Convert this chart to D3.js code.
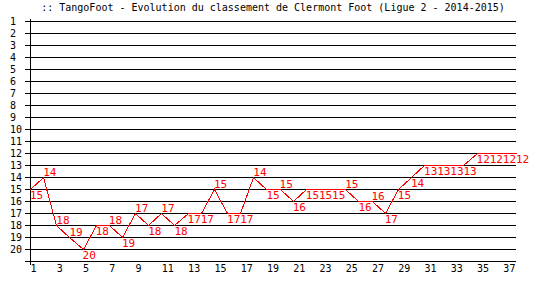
<!DOCTYPE html>
<html>
<head>
<meta charset="utf-8">
<script src="https://cdn.jsdelivr.net/npm/d3@7"></script>
<style>
body { margin: 0; background: #fff; }
text { font-family: "DejaVu Sans Mono", monospace; }
</style>
</head>
<body>
<svg id="chart"></svg>
<script>
var title = ":: TangoFoot - Evolution du classement de Clermont Foot (Ligue 2 - 2014-2015)";

// journées 1..38
var rounds = [1,2,3,4,5,6,7,8,9,10,11,12,13,14,15,16,17,18,19,20,
              21,22,23,24,25,26,27,28,29,30,31,32,33,34,35,36,37,38];
// classement après chaque journée
var ranks = [15,14,18,19,20,18,18,19,17,18,17,18,17,17,15,17,17,14,15,15,
             16,15,15,15,15,16,16,17,15,14,13,13,13,13,12,12,12,12];
var rankTicks = [1,2,3,4,5,6,7,8,9,10,11,12,13,14,15,16,17,18,19,20];
var gridRanks = [1,2,3,4,5,6,7,8,9,10,11,12,13,14,15,16,17,18,19,20,21];
var roundTicks = [1,3,5,7,9,11,13,15,17,19,21,23,25,27,29,31,33,35,37];

var width = 540,
    height = 300;

var svg = d3.select("#chart")
  .attr("width", width)
  .attr("height", height);

var x = d3.scaleLinear().domain([1, 38]).range([30, 516]);
var y = d3.scaleLinear().domain([1, 21]).range([21, 261]);

svg.append("text")
  .attr("x", 273)
  .attr("y", 11)
  .attr("text-anchor", "middle")
  .style("font-size", "10px")
  .attr("fill", "#000")
  .text(title);

// horizontal grid lines
svg.append("g")
  .selectAll("line")
  .data(gridRanks)
  .enter().append("line")
  .attr("x1", 25)
  .attr("x2", 516)
  .attr("y1", function(d) { return Math.round(y(d)) + 0.5; })
  .attr("y2", function(d) { return Math.round(y(d)) + 0.5; })
  .attr("stroke", "#000")
  .attr("stroke-width", 1)
  .attr("shape-rendering", "crispEdges");

// vertical axis line
svg.append("line")
  .attr("x1", 30.5).attr("x2", 30.5)
  .attr("y1", 19).attr("y2", 265)
  .attr("stroke", "#000")
  .attr("shape-rendering", "crispEdges");

// y labels (alignés à gauche)
var yAxis = d3.axisLeft(y).tickValues(rankTicks).tickSize(0);
var gy = svg.append("g").attr("transform", "translate(30,0)").call(yAxis);
gy.select(".domain").remove();
gy.selectAll("text")
  .attr("x", -20)
  .attr("text-anchor", "start")
  .style("font-size", "10px")
  .attr("fill", "#000")
  .attr("font-family", "DejaVu Sans Mono");

// x labels
var xAxis = d3.axisBottom(x).tickValues(roundTicks).tickSize(0).tickPadding(4);
var gx = svg.append("g").attr("transform", "translate(0,261)").call(xAxis);
gx.select(".domain").remove();
gx.selectAll("text")
  .style("font-size", "10px")
  .attr("text-anchor", "start")
  .attr("fill", "#000")
  .attr("font-family", "DejaVu Sans Mono");

// courbe
var line = d3.line()
  .x(function(d, i) { return Math.round(x(rounds[i])) + 0.5; })
  .y(function(d) { return Math.round(y(d)) + 0.5; });

svg.append("path")
  .datum(ranks)
  .attr("d", line)
  .attr("fill", "none")
  .attr("stroke", "#ff0000")
  .attr("stroke-width", 1)
  .attr("shape-rendering", "crispEdges");

// étiquettes: au-dessus si le classement suivant est moins bon
svg.append("g")
  .selectAll("text")
  .data(ranks)
  .enter().append("text")
  .attr("x", function(d, i) { return x(rounds[i]); })
  .attr("y", function(d, i) {
    var above = i < ranks.length - 1 && ranks[i + 1] > d;
    return above ? y(d) - 1 : y(d) + 10;
  })
  .style("font-size", "11px")
  .attr("fill", "#ff0000")
  .text(function(d) { return d; });
</script>
</body>
</html>
